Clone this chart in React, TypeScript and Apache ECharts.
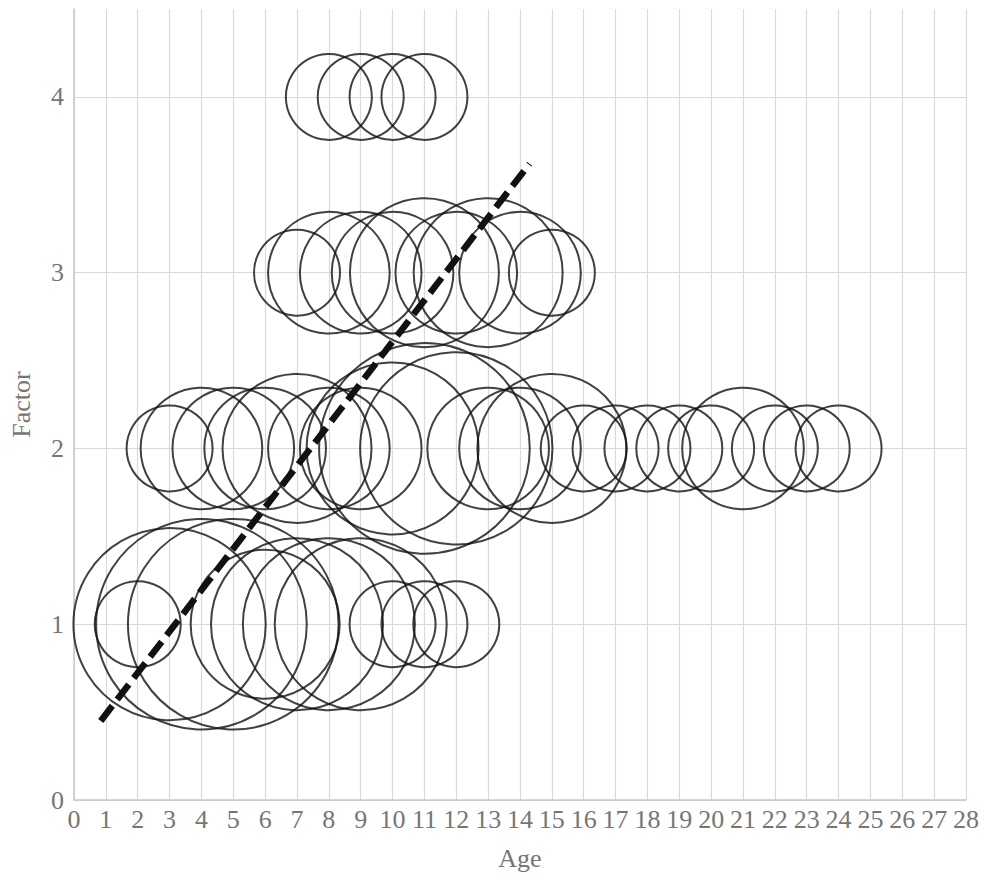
import React, { useEffect, useRef } from "react";
import * as echarts from "echarts";

// Bubble data: age, factor, count (bubble size)
const factor1Ages = [2, 3, 4, 5, 6, 7, 8, 9, 10, 11, 12];
const factor1Counts = [1, 5, 6, 6, 3, 4, 4, 4, 1, 1, 1];

const factor2Ages = [3, 4, 5, 6, 7, 8, 9, 10, 11, 12, 13, 14, 15, 16, 17, 18, 19, 20, 21, 22, 23, 24];
const factor2Counts = [1, 2, 2, 2, 3, 2, 2, 4, 6, 5, 2, 2, 3, 1, 1, 1, 1, 1, 2, 1, 1, 1];

const factor3Ages = [7, 8, 9, 10, 11, 12, 13, 14, 15];
const factor3Counts = [1, 2, 2, 2, 3, 2, 3, 2, 1];

const factor4Ages = [8, 9, 10, 11];
const factor4Counts = [1, 1, 1, 1];

// Dashed trend line end points
const trendAges = [0.84, 14.3];
const trendFactors = [0.45, 3.62];

const xTicks = { min: 0, max: 28, interval: 1 };
const yTicks = { min: 0, max: 4.5, interval: 1 };

function buildPoints(ages: number[], factor: number, counts: number[]) {
  return ages.map((a, i) => [a, factor, counts[i]]);
}

export default function App() {
  const ref = useRef<HTMLDivElement>(null);

  useEffect(() => {
    if (!ref.current) return;
    const chart = echarts.init(ref.current, null, { renderer: "svg" });
    const font = "Liberation Serif";
    const textGray = "#767676";
    const gridGray = "#d9d9d9";
    const fs = 26;

    const bubbles = [
      ...buildPoints(factor1Ages, 1, factor1Counts),
      ...buildPoints(factor2Ages, 2, factor2Counts),
      ...buildPoints(factor3Ages, 3, factor3Counts),
      ...buildPoints(factor4Ages, 4, factor4Counts),
    ];

    chart.setOption({
      animation: false,
      backgroundColor: "#ffffff",
      textStyle: { fontFamily: font },
      grid: { left: 68, right: 18, top: 9, bottom: 73 },
      xAxis: {
        type: "value",
        min: xTicks.min,
        max: xTicks.max,
        interval: xTicks.interval,
        name: "Age",
        nameLocation: "middle",
        nameGap: 45,
        nameTextStyle: { fontFamily: font, fontSize: fs, color: textGray },
        axisLine: { show: true, lineStyle: { color: "#c8c8c8", width: 1.5 } },
        axisTick: { show: false },
        axisLabel: { fontFamily: font, fontSize: fs, color: textGray, margin: 6 },
        splitLine: { show: true, lineStyle: { color: gridGray, width: 1.2 } },
      },
      yAxis: {
        type: "value",
        min: yTicks.min,
        max: yTicks.max,
        interval: yTicks.interval,
        name: "Factor",
        nameLocation: "middle",
        nameGap: 40,
        nameTextStyle: { fontFamily: font, fontSize: fs, color: textGray },
        axisLine: { show: true, lineStyle: { color: "#c8c8c8", width: 1.5 } },
        axisTick: { show: false },
        axisLabel: {
          fontFamily: font,
          fontSize: fs,
          color: textGray,
          margin: 10,
          formatter: (v: number) => (Number.isInteger(v) ? String(v) : ""),
        },
        splitLine: {
          show: true,
          lineStyle: {
            color: [gridGray, gridGray, gridGray, gridGray, gridGray, "rgba(0,0,0,0)"],
            width: 1.2,
          },
        },
      },
      series: [
        {
          type: "scatter",
          data: bubbles,
          symbol: "circle",
          symbolSize: (d: number[]) => 86 * Math.sqrt(d[2]),
          itemStyle: { color: "rgba(0,0,0,0)", borderColor: "#111111", borderWidth: 2 },
          silent: true,
          z: 2,
        },
        {
          type: "line",
          data: trendAges.map((a, i) => [a, trendFactors[i]]),
          symbol: "none",
          lineStyle: { color: "#111111", width: 6.5, type: [19, 8], cap: "butt" },
          silent: true,
          z: 3,
        },
      ],
    });

    return () => chart.dispose();
  }, []);

  return <div ref={ref} style={{ width: 984, height: 876, position: "absolute", left: 0, top: 0 }} />;
}
